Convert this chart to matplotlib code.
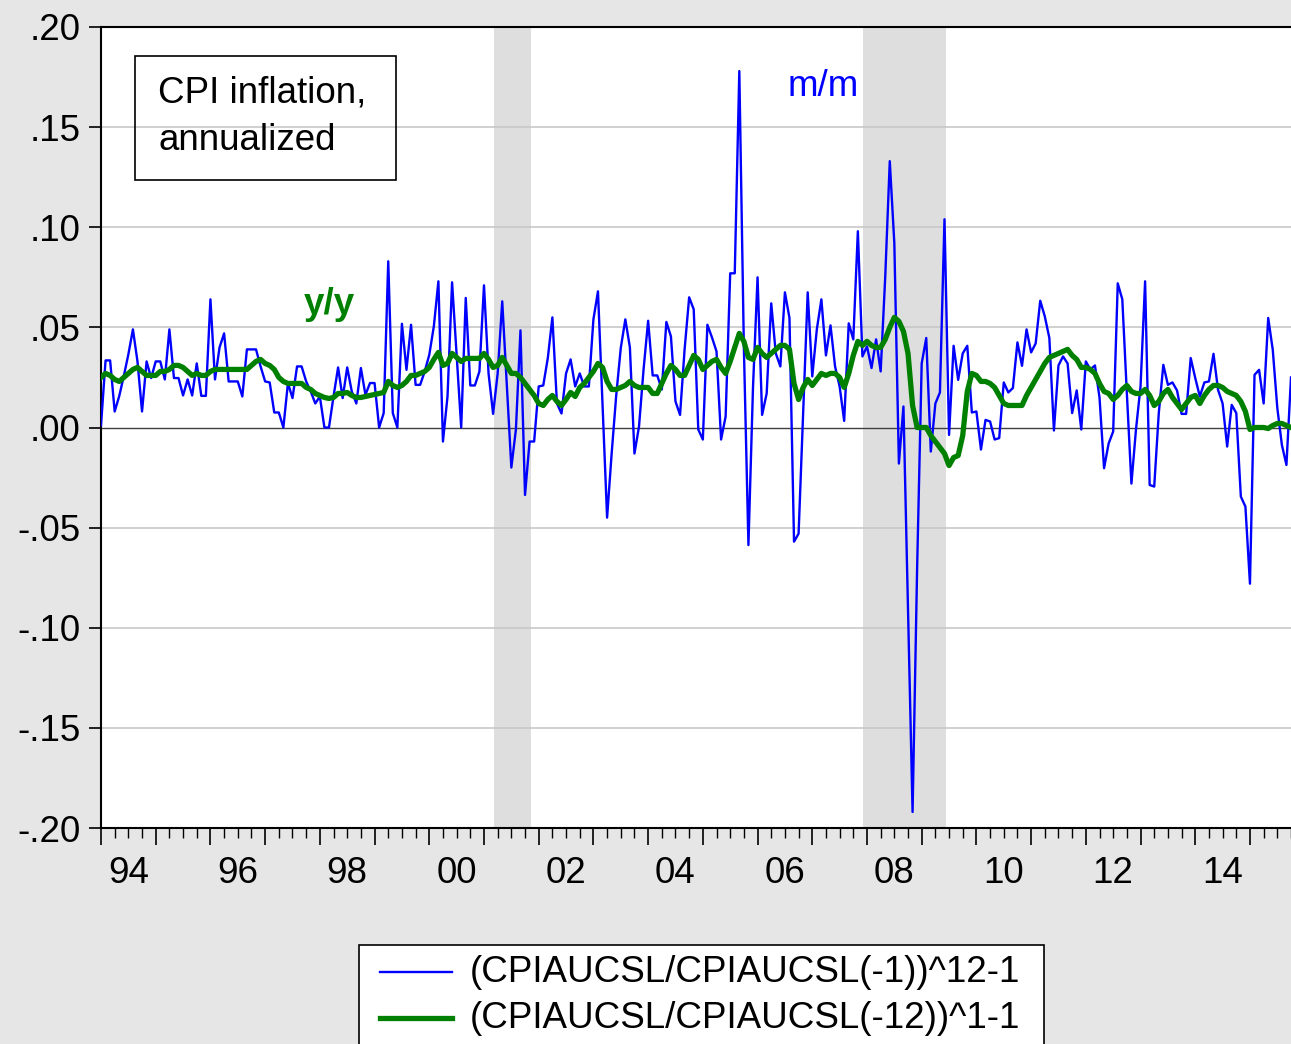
import numpy as np
import matplotlib
matplotlib.use("Agg")
import matplotlib.pyplot as plt
from matplotlib.patches import Rectangle
from matplotlib.lines import Line2D

plt.rcParams['font.family'] = ['Liberation Sans', 'DejaVu Sans']

# monthly data, 1994m1 onwards (one row per year)
mm = [
    0.001, 0.0335, 0.0335, 0.008, 0.0157, 0.0257, 0.0365, 0.049, 0.033, 0.008, 0.033, 0.0247,
    0.033, 0.033, 0.024, 0.049, 0.0247, 0.0247, 0.016, 0.024, 0.016, 0.032, 0.0158, 0.0158,
    0.064, 0.024, 0.040, 0.047, 0.023, 0.023, 0.023, 0.0155, 0.039, 0.039, 0.039, 0.0305,
    0.023, 0.0225, 0.0075, 0.0075, 0.0, 0.0222, 0.0147, 0.0305, 0.0305, 0.023, 0.018, 0.012,
    0.0155, 0.0, 0.0, 0.0155, 0.030, 0.0147, 0.030, 0.018, 0.012, 0.0297, 0.0163, 0.0222,
    0.0222, 0.0, 0.0072, 0.083, 0.0072, 0.0, 0.0518, 0.0288, 0.0513, 0.0213, 0.0213, 0.028,
    0.0363, 0.0505, 0.073, -0.007, 0.0155, 0.0725, 0.0363, 0.0, 0.0647, 0.021, 0.021, 0.028,
    0.071, 0.027, 0.0068, 0.027, 0.063, 0.021, -0.020, -0.001, 0.0485, -0.0337, -0.007, -0.007,
    0.0205, 0.021, 0.0347, 0.055, 0.012, 0.007, 0.027, 0.034, 0.0205, 0.027, 0.0205, 0.0205,
    0.054, 0.068, 0.012, -0.045, -0.013, 0.016, 0.0397, 0.054, 0.040, -0.013, 0.0005, 0.029,
    0.0533, 0.026, 0.026, 0.019, 0.0527, 0.0455, 0.013, 0.0063, 0.039, 0.065, 0.059, -0.001,
    -0.006, 0.0513, 0.045, 0.038, -0.006, 0.0055, 0.077, 0.077, 0.178, 0.04, -0.0587, 0.02,
    0.075, 0.0063, 0.017, 0.062, 0.037, 0.0305, 0.0675, 0.0547, -0.057, -0.053, 0.007, 0.0675,
    0.0255, 0.049, 0.064, 0.036, 0.051, 0.0305, 0.0205, 0.0033, 0.052, 0.044, 0.098, 0.0355,
    0.0405, 0.0297, 0.044, 0.028, 0.075, 0.133, 0.092, -0.018, 0.0105, -0.09, -0.192, -0.07,
    0.032, 0.0447, -0.012, 0.012, 0.0175, 0.104, -0.0037, 0.0408, 0.0238, 0.037, 0.0408, 0.0075,
    0.008, -0.011, 0.0038, 0.003, -0.006, -0.0053, 0.0225, 0.0175, 0.0197, 0.0425, 0.0308, 0.049,
    0.0375, 0.042, 0.0633, 0.0555, 0.0447, -0.0015, 0.031, 0.0355, 0.032, 0.0072, 0.0185, -0.001,
    0.033, 0.029, 0.031, 0.015, -0.0203, -0.008, -0.002, 0.072, 0.064, 0.017, -0.028, -0.001,
    0.0205, 0.073, -0.0287, -0.0295, 0.0072, 0.0313, 0.0213, 0.0225, 0.0185, 0.0068, 0.0068, 0.0347,
    0.0247, 0.0155, 0.0225, 0.023, 0.0368, 0.0188, 0.012, -0.0095, 0.0113, 0.0072, -0.0345, -0.0395,
    -0.078, 0.0263, 0.0288, 0.012, 0.0547, 0.0388, 0.0097, -0.0087, -0.0187, 0.025,
]

yy = [
    0.025, 0.027, 0.026, 0.024, 0.023, 0.025, 0.027, 0.029, 0.030, 0.028, 0.026, 0.026,
    0.026, 0.028, 0.028, 0.029, 0.031, 0.031, 0.030, 0.028, 0.026, 0.027, 0.026, 0.026,
    0.028, 0.029, 0.029, 0.029, 0.029, 0.029, 0.029, 0.029, 0.029, 0.031, 0.033, 0.034,
    0.032, 0.031, 0.029, 0.025, 0.023, 0.022, 0.022, 0.022, 0.022, 0.020, 0.019, 0.017,
    0.016, 0.015, 0.0145, 0.015, 0.017, 0.017, 0.0175, 0.016, 0.015, 0.015, 0.0155, 0.016,
    0.0165, 0.017, 0.0175, 0.023, 0.021, 0.020, 0.021, 0.023, 0.026, 0.026, 0.027, 0.028,
    0.030, 0.034, 0.0375, 0.031, 0.032, 0.037, 0.035, 0.033, 0.0345, 0.0345, 0.0345, 0.0345,
    0.037, 0.034, 0.030, 0.031, 0.035, 0.031, 0.027, 0.027, 0.025, 0.022, 0.019, 0.016,
    0.012, 0.011, 0.014, 0.016, 0.013, 0.011, 0.014, 0.0175, 0.0155, 0.020, 0.022, 0.025,
    0.028, 0.032, 0.030, 0.023, 0.019, 0.019, 0.020, 0.021, 0.023, 0.021, 0.020, 0.020,
    0.020, 0.017, 0.017, 0.022, 0.027, 0.031, 0.029, 0.026, 0.026, 0.031, 0.036, 0.034,
    0.029, 0.031, 0.033, 0.034, 0.030, 0.027, 0.033, 0.040, 0.047, 0.043, 0.035, 0.034,
    0.040, 0.037, 0.035, 0.037, 0.039, 0.041, 0.041, 0.039, 0.022, 0.014, 0.020, 0.024,
    0.021, 0.024, 0.027, 0.026, 0.027, 0.027, 0.025, 0.020, 0.027, 0.036, 0.043, 0.041,
    0.043, 0.041, 0.040, 0.040, 0.044, 0.050, 0.055, 0.053, 0.048, 0.037, 0.011, 0.0,
    0.0, 0.0, -0.004, -0.007, -0.010, -0.013, -0.019, -0.015, -0.014, -0.004, 0.018, 0.027,
    0.026, 0.023, 0.023, 0.022, 0.020, 0.016, 0.012, 0.011, 0.011, 0.011, 0.011, 0.016,
    0.020, 0.024, 0.028, 0.032, 0.035, 0.036, 0.037, 0.038, 0.039, 0.036, 0.034, 0.030,
    0.030, 0.029, 0.027, 0.022, 0.018, 0.017, 0.014, 0.016, 0.019, 0.021, 0.018, 0.017,
    0.017, 0.019, 0.016, 0.011, 0.013, 0.017, 0.019, 0.015, 0.012, 0.009, 0.012, 0.015,
    0.016, 0.012, 0.016, 0.019, 0.021, 0.021, 0.020, 0.018, 0.017, 0.016, 0.013, 0.008,
    -0.001, 0.0, 0.0, 0.0, -0.0005, 0.001, 0.002, 0.002, 0.001, 0.000,
]

recessions = [(2001 + 2/12, 2001 + 10/12), (2007 + 11/12, 2009 + 5/12)]
ytick_vals = [0.20, 0.15, 0.10, 0.05, 0.00, -0.05, -0.10, -0.15, -0.20]
ytick_labels = [".20", ".15", ".10", ".05", ".00", "-.05", "-.10", "-.15", "-.20"]
year_labels = ["94", "96", "98", "00", "02", "04", "06", "08", "10", "12", "14"]

FS = 26.5
W, H = 1291, 1044
def fx(x):
    return x / W
def fy(y):
    return 1 - y / H

t = 1994 + np.arange(len(mm)) / 12.0

fig = plt.figure(figsize=(W / 100, H / 100), dpi=100, facecolor="#E6E6E6")
ax = fig.add_axes([fx(101), fy(828), fx(W) - fx(101), fy(27) - fy(828)])
ax.set_facecolor("white")

for a, b in recessions:
    ax.axvspan(a + 0.015, b + 0.03, color="#DEDEDE", lw=0, zorder=0)

for v in ytick_vals:
    if v == 0:
        ax.axhline(v, color="#404040", lw=1.0, zorder=1)
    else:
        ax.axhline(v, color="#C8C8C8", lw=1.2, zorder=1)

ax.plot(t, mm, color="#0000FF", lw=1.7, zorder=3)
ax.plot(t[:len(yy)], yy, color="#008000", lw=3.8, zorder=4, solid_joinstyle="round")

ax.set_xlim(1994.0, 1994 + (W - 101) / 54.81)
ax.set_ylim(-0.20, 0.20)

ax.set_yticks(ytick_vals)
ax.set_yticklabels(ytick_labels)
ax.set_xticks(np.arange(1994, 2016))
ax.set_xticks(np.arange(1994, 2016, 0.25), minor=True)
ax.set_xticklabels([])
ax.tick_params(axis="y", direction="out", length=9, width=1.2, pad=6, labelsize=FS)
ax.tick_params(axis="x", which="major", direction="out", length=12, width=1.2)
ax.tick_params(axis="x", which="minor", direction="out", length=7, width=1.0)

for i, lab in enumerate(year_labels):
    ax.text(1994.5 + 2 * i, -0.2 - 0.0225, lab, ha="center", va="center", fontsize=FS)

for s in ["left", "top", "bottom"]:
    ax.spines[s].set_linewidth(1.5)
ax.spines["right"].set_visible(False)

# annotations
fig.patches.append(Rectangle((fx(135), fy(180)), fx(396) - fx(135), fy(56) - fy(180),
                             transform=fig.transFigure, fill=False, ec="black", lw=1.2))
fig.text(fx(158), fy(93), "CPI inflation,", fontsize=FS, va="center", ha="left")
fig.text(fx(158), fy(140), "annualized", fontsize=FS, va="center", ha="left")
fig.text(fx(823), fy(86), "m/m", fontsize=FS, color="#0000FF", va="center", ha="center")
fig.text(fx(329), fy(304), "y/y", fontsize=FS, color="#008000", fontweight="bold",
         va="center", ha="center")

# legend below the chart
fig.patches.append(Rectangle((fx(359), fy(1080)), fx(1044) - fx(359), fy(945) - fy(1080),
                             transform=fig.transFigure, fill=True, fc="white", ec="black", lw=1.2))
fig.lines.append(Line2D([fx(380), fx(452)], [fy(972), fy(972)], transform=fig.transFigure,
                        color="#0000FF", lw=1.7))
fig.lines.append(Line2D([fx(380), fx(452)], [fy(1018), fy(1018)], transform=fig.transFigure,
                        color="#008000", lw=3.8))
fig.text(fx(470), fy(972), "(CPIAUCSL/CPIAUCSL(-1))^12-1", fontsize=FS, va="center", ha="left")
fig.text(fx(470), fy(1018), "(CPIAUCSL/CPIAUCSL(-12))^1-1", fontsize=FS, va="center", ha="left")

fig.savefig("out.png", dpi=100, facecolor=fig.get_facecolor())
